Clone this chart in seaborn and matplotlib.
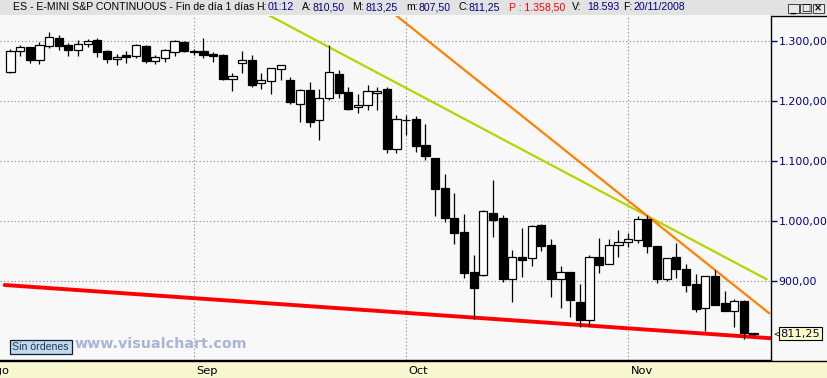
import matplotlib
matplotlib.use("Agg")
import matplotlib.pyplot as plt
import matplotlib.transforms as mtrans
from matplotlib.patches import Rectangle
from matplotlib.lines import Line2D
import seaborn as sns
import numpy as np
import pandas as pd

# ---------------- data ----------------
opens = [1248, 1283, 1289, 1268, 1291, 1304, 1292, 1285, 1294, 1300,
         1282, 1269, 1276, 1275, 1291, 1266, 1271, 1281, 1298, 1283,
         1283, 1278, 1276, 1236, 1263, 1268, 1229, 1233, 1252, 1235,
         1195, 1217, 1167, 1204, 1244, 1214, 1189, 1192, 1212, 1220,
         1119, 1168, 1169, 1126, 1104, 1054, 1004, 981, 914, 909,
         1012, 1004, 903, 940, 937, 993, 959, 903, 914, 864,
         835, 939, 927, 959, 965, 968, 1002, 957, 903, 940,
         919, 894, 854, 907, 862, 850, 866, 810.5]
highs = [1286, 1292, 1290, 1298, 1314, 1309, 1296, 1301, 1302, 1305,
         1285, 1278, 1282, 1294, 1293, 1276, 1286, 1301, 1299, 1286,
         1304, 1281, 1278, 1246, 1282, 1276, 1246, 1255, 1259, 1239,
         1220, 1231, 1219, 1292, 1251, 1223, 1211, 1226, 1223, 1223,
         1176, 1176, 1174, 1161, 1105, 1078, 1046, 1011, 943, 1018,
         1068, 1009, 951, 988, 992, 994, 969, 924, 915, 894,
         942, 971, 969, 984, 980, 1008, 1009, 958, 938, 962,
         928, 911, 908, 918, 882, 869, 867, 813.25]
lows = [1246, 1275, 1263, 1261, 1288, 1285, 1275, 1275, 1290, 1273,
        1263, 1260, 1263, 1271, 1263, 1261, 1265, 1275, 1281, 1276,
        1271, 1265, 1234, 1216, 1246, 1223, 1220, 1211, 1234, 1195,
        1164, 1156, 1135, 1201, 1205, 1185, 1180, 1185, 1185, 1113,
        1112, 1142, 1115, 1101, 1008, 998, 961, 904, 836, 908,
        973, 897, 865, 906, 925, 950, 872, 855, 840, 823,
        825, 913, 927, 940, 956, 963, 946, 896, 900, 905,
        881, 848, 816, 859, 849, 823, 803, 807.5]
closes = [1282, 1289, 1268, 1292, 1305, 1291, 1285, 1294, 1300, 1281,
          1269, 1273, 1273, 1292, 1266, 1272, 1284, 1299, 1283, 1281,
          1276, 1275, 1236, 1241, 1267, 1226, 1234, 1254, 1259, 1197,
          1217, 1164, 1204, 1247, 1213, 1186, 1192, 1216, 1216, 1119,
          1169, 1167, 1125, 1108, 1053, 1005, 980, 912, 888, 1016,
          1001, 903, 940, 934, 991, 958, 903, 915, 867, 835,
          939, 926, 960, 965, 969, 1002, 957, 903, 937, 920,
          893, 852, 907, 860, 850, 866, 812, 811.25]

month_labels = ["Ago", "Sep", "Oct", "Nov"]
month_pos = [-2.6, 19, 41, 64]          # bar index of first session of month
price_ticks = [900, 1000, 1100, 1200, 1300]
price_tick_labels = ["900,00", "1.000,00", "1.100,00", "1.200,00", "1.300,00"]
last_price = 811.25
last_price_label = "811,25"

# trend lines (bar index, price)
red_x, red_y = [-0.6, 79.5], [892.5, 803.0]
green_x, green_y = [26.79, 78.36], [1342.0, 902.0]
orange_x, orange_y = [39.95, 78.63], [1342.0, 845.3]

# ---------------- figure ----------------
W, H = 828, 378
sns.set_style("white")
plt.rcParams['font.family'] = ['DejaVu Sans']

fig = plt.figure(figsize=(W / 100, H / 100), dpi=100)
fig.patch.set_facecolor("#f8f8f8")


def fx(px):
    return px / W


def fy(py):
    return 1 - py / H


top_px, bot_px, right_px = 15.5, 360, 771
ax = fig.add_axes([0, fy(bot_px), fx(right_px), (bot_px - top_px) / H])
ax.set_facecolor("#f8f8f8")


def px2price(y):
    return 1300 - (y - 40.5) / 0.6


ax.set_ylim(px2price(bot_px), px2price(top_px))
ax.set_xlim((0 - 10.5) / 9.65, (right_px - 10.5) / 9.65)

df = pd.DataFrame({"idx": np.arange(len(opens)), "open": opens, "high": highs,
                   "low": lows, "close": closes})
up = df["close"] >= df["open"]
body_bottom = np.minimum(df["open"], df["close"])
body_h = np.maximum((df["close"] - df["open"]).abs(), 1.3)

# trend lines (seaborn)
sns.lineplot(x=red_x, y=red_y, color="#ff0000", lw=2.8, ax=ax, zorder=2)
sns.lineplot(x=green_x, y=green_y, color="#b2d600", lw=1.6, ax=ax, zorder=2)
sns.lineplot(x=orange_x, y=orange_y, color="#ff8000", lw=1.6, ax=ax, zorder=2)

# candles
ax.vlines(df["idx"], df["low"], df["high"], color="black", lw=0.9, zorder=3)
ax.bar(df["idx"], body_h, bottom=body_bottom, width=0.84,
       color=np.where(up, "white", "black"), edgecolor="black",
       linewidth=0.9, zorder=4)

# grid & ticks
ax.set_yticks(price_ticks)
ax.set_yticklabels(price_tick_labels)
ax.set_xticks(month_pos[1:])
ax.set_xticklabels(month_labels[1:])
ax.grid(True, color="#888888", linestyle=(0, (1, 2.2)), lw=0.8, zorder=1)
ax.set_axisbelow(True)
ax.yaxis.tick_right()
ax.tick_params(axis="y", direction="out", length=4, width=1, color="#000080",
               pad=1.5, labelsize=7.9, labelcolor="#000080")
ax.tick_params(axis="x", direction="out", length=7, width=1, color="black",
               pad=-3, labelsize=8.2, labelcolor="black")
for lbl in ax.get_xticklabels():
    lbl.set_ha("left")
    lbl.set_transform(lbl.get_transform() +
                      mtrans.ScaledTranslation(2.5 / 100, 0, fig.dpi_scale_trans))
ax.set_xlabel("")
ax.set_ylabel("")
for s in ["top", "left"]:
    ax.spines[s].set_visible(False)
ax.spines["right"].set_color("black")
ax.spines["right"].set_linewidth(1)
ax.spines["bottom"].set_color("black")
ax.spines["bottom"].set_linewidth(1)

# "Ago" label (tick outside visible range)
ax.text(month_pos[0], 0, month_labels[0], fontsize=8.2, color="black",
        ha="left", va="top", clip_on=False,
        transform=mtrans.blended_transform_factory(ax.transData, ax.transAxes) +
        mtrans.ScaledTranslation(2.5 / 100, -6 / 100, fig.dpi_scale_trans))

# last price box
bt = mtrans.blended_transform_factory(ax.transAxes, ax.transData)
ax.text(1.0, last_price, last_price_label, fontsize=8.2, color="#000060",
        ha="left", va="center", clip_on=False,
        transform=bt + mtrans.ScaledTranslation(9.5 / 100, 0, fig.dpi_scale_trans),
        bbox=dict(boxstyle="square,pad=0.12", fc="#ffffc0", ec="black", lw=0.8))
ax.text(1.0, last_price, "<", fontsize=5.5, color="black", ha="left", va="center",
        clip_on=False,
        transform=bt + mtrans.ScaledTranslation(2 / 100, 0, fig.dpi_scale_trans))

# ---------------- decorations ----------------
# bottom yellow band
fig.patches.append(Rectangle((0, 0), 1, fy(bot_px), transform=fig.transFigure,
                             facecolor="#f8f8d0", edgecolor="none", zorder=-1))
fig.add_artist(Line2D([0, 1], [fy(bot_px + 0.5)] * 2, color="black", lw=1))
# header
fig.patches.append(Rectangle((0, fy(15)), 1, 15 / H, transform=fig.transFigure,
                             facecolor="#e2e2e2", edgecolor="none", zorder=-1))
fig.add_artist(Line2D([fx(771.5), 1], [fy(15.5)] * 2, color="black", lw=1))

hdr = [(13, "ES - E-MINI S&P CONTINUOUS - Fin de día 1 días", "black"),
       (256, "H:", "black"), (268, "01:12", "#000080"),
       (302, "A:", "black"), (313, "810,50", "#000080"),
       (352, "M:", "black"), (366, "813,25", "#000080"),
       (406, "m:", "black"), (419, "807,50", "#000080"),
       (459, "C:", "black"), (469, "811,25", "#000080"),
       (509, "P : 1.358,50", "#ff0000"),
       (572, "V:", "black"), (587, "18.593", "#000080"),
       (623, "F:", "black"), (634, "20/11/2008", "#000080")]
for xp, t, c in hdr:
    fig.text(fx(xp), fy(7.5), t, color=c, fontsize=7.6, ha="left", va="center",
             family=["Liberation Sans", "DejaVu Sans"])

# window buttons
for i, g in enumerate(["_", "□", "×"]):
    x0 = 788 + i * 12.3
    fig.patches.append(Rectangle((fx(x0), fy(13)), fx(11), 9 / H,
                                 transform=fig.transFigure, facecolor="#e8e8e8",
                                 edgecolor="#404040", lw=0.7))
    fig.text(fx(x0 + 5.5), fy(8.5), g, fontsize=7, ha="center", va="center",
             color="black", fontweight="bold")

# "Sin órdenes" button
fig.patches.append(Rectangle((fx(9.5), fy(354)), fx(62), 14.5 / H,
                             transform=fig.transFigure, facecolor="#c2d8ee",
                             edgecolor="#102030", lw=0.9))
fig.text(fx(40.5), fy(346.8), "Sin órdenes", fontsize=7.6, ha="center",
         va="center", color="#1c3c50", family=["Liberation Sans", "DejaVu Sans"])
# watermark
fig.text(fx(75), fy(344), "www.visualchart.com", fontsize=10.3,
         fontweight="bold", color="#aab4d6", ha="left", va="center")

fig.savefig("out.png", dpi=100, facecolor=fig.get_facecolor())
